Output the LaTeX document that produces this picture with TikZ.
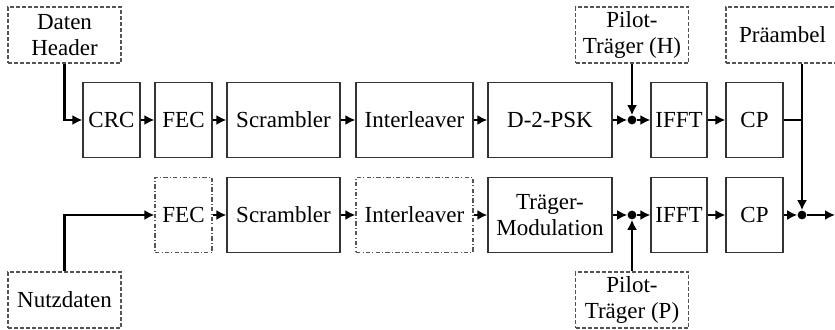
\documentclass[tikz,border=0pt]{standalone}
\usepackage{fontspec}
\setmainfont{Liberation Serif}
\usetikzlibrary{arrows.meta}
\definecolor{boxline}{HTML}{333333}
\definecolor{auxline}{HTML}{555555}
\tikzset{
  block/.style={draw=boxline, line width=0.6pt, minimum height=37.5pt,
    inner sep=1pt, align=center, font=\fontsize{11.5}{13}\selectfont},
  optblock/.style={block, draw=auxline,
    dash pattern=on 2.2pt off 1.1pt on 0.5pt off 1.1pt},
  srcbox/.style={draw=auxline, line width=0.6pt, dash pattern=on 2pt off 1pt,
    minimum width=56.5pt, minimum height=28pt, inner sep=1pt, align=center,
    font=\fontsize{11.5}{13}\selectfont},
  flow/.style={line width=1.1pt, -{Latex[length=5pt,width=5pt]}},
  wire/.style={line width=1.1pt},
  junction/.style={circle, fill=black, inner sep=0pt, minimum size=4.4pt},
}
\begin{document}
\begin{tikzpicture}[x=0.5pt, y=-0.5pt]
  \useasboundingbox (0,0) rectangle (835,330);

  % upper chain: header data
  \node[block, minimum width=28.5pt] (crc)  at (111.5,120) {CRC};
  \node[block, minimum width=28.5pt] (fecA) at (183.5,120) {FEC};
  \node[block, minimum width=56.5pt] (scrA) at (283.5,120) {Scrambler};
  \node[block, minimum width=58.5pt] (intA) at (414.5,120) {Interleaver};
  \node[block, minimum width=62pt]   (psk)  at (550,120)   {D-2-PSK};
  \node[block, minimum width=28pt]   (ifftA) at (679,120)  {IFFT};
  \node[block, minimum width=28.5pt] (cpA)  at (754.5,120) {CP};

  % lower chain: payload data
  \node[optblock, minimum width=28.5pt] (fecB) at (183.5,215) {FEC};
  \node[block, minimum width=56.5pt]    (scrB) at (283.5,215) {Scrambler};
  \node[optblock, minimum width=58.5pt] (intB) at (414.5,215) {Interleaver};
  \node[block, minimum width=62pt]      (mod)  at (550,215)   {Träger-\\Modulation};
  \node[block, minimum width=28pt]      (ifftB) at (679,215)  {IFFT};
  \node[block, minimum width=28.5pt]    (cpB)  at (754.5,215) {CP};

  % data sources
  \node[srcbox] (hdr)    at (64.5,35)  {Daten\\Header};
  \node[srcbox] (user)   at (64.5,300) {Nutzdaten};
  \node[srcbox] (pilotH) at (632,35)   {Pilot-\\Träger (H)};
  \node[srcbox] (pilotP) at (632,300)  {Pilot-\\Träger (P)};
  \node[srcbox] (pre)    at (782.5,35) {Präambel};

  % junction points
  \node[junction] (jA) at (632,120) {};
  \node[junction] (jB) at (632,215) {};
  \node[junction] (jC) at (802,215) {};
  \coordinate (tapA) at (802,120);
  \coordinate (out) at (835,215);

  % upper connections
  \draw[flow] (hdr.south) |- (crc.west);
  \draw[flow] (crc) -- (fecA);
  \draw[flow] (fecA) -- (scrA);
  \draw[flow] (scrA) -- (intA);
  \draw[flow] (intA) -- (psk);
  \draw[flow] (psk) -- (jA);
  \draw[flow] (pilotH) -- (jA);
  \draw[flow] (jA) -- (ifftA);
  \draw[flow] (ifftA) -- (cpA);
  \draw[wire] (cpA.east) -- (tapA);

  % lower connections
  \draw[flow] (user.north) |- (fecB.west);
  \draw[flow] (fecB) -- (scrB);
  \draw[flow] (scrB) -- (intB);
  \draw[flow] (intB) -- (mod);
  \draw[flow] (mod) -- (jB);
  \draw[flow] (pilotP) -- (jB);
  \draw[flow] (jB) -- (ifftB);
  \draw[flow] (ifftB) -- (cpB);

  % preamble insertion and output
  \draw[flow] (pre.south -| jC) -- (jC);
  \draw[flow] (cpB) -- (jC);
  \draw[flow] (jC) -- (out);
\end{tikzpicture}
\end{document}
